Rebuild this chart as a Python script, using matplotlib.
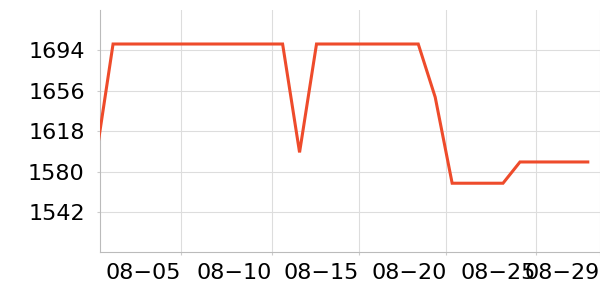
import matplotlib
matplotlib.use('Agg')
import matplotlib.pyplot as plt

# daily readings, 07-31 .. 08-29
dates = ['07-31'] + ['08-%02d' % d for d in range(1, 30)]
values = [1594,
          1700, 1700, 1700, 1700, 1700, 1700, 1700, 1700, 1700, 1700, 1700,
          1598,
          1700, 1700, 1700, 1700, 1700, 1700, 1700,
          1650,
          1569, 1569, 1569, 1569,
          1589, 1589, 1589, 1589, 1589]

y_ticks = [1542, 1580, 1618, 1656, 1694]
x_labels = ['08\u221205', '08\u221210', '08\u221215', '08\u221220', '08\u221225', '08\u221229']
x_tick_pos = [5.03, 10.35, 15.5, 20.66, 25.93, 29.71]

fig = plt.figure(figsize=(6, 3), dpi=100)
ax = fig.add_axes([100 / 600, 1 - 252.3 / 300, 500 / 600, 242.3 / 300])

x = list(range(len(values)))
ax.plot(x, values, color='#ee4b2b', linewidth=2.2, solid_joinstyle='miter', zorder=3)

ax.set_xlim(0.23, 29.72)
ax.set_ylim(1504, 1732)
ax.set_yticks(y_ticks)
ax.set_yticklabels([str(v) for v in y_ticks])
ax.set_xticks(x_tick_pos)
ax.set_xticklabels(x_labels, ha='right')

ax.grid(True, color='#dddddd', linewidth=0.8)
ax.set_axisbelow(True)
for side in ['top', 'right']:
    ax.spines[side].set_visible(False)
for side in ['left', 'bottom']:
    ax.spines[side].set_color('#bbbbbb')
    ax.spines[side].set_linewidth(0.8)

ax.tick_params(axis='both', colors='#cccccc', labelcolor='black', labelsize=16, length=2, width=0.8)
ax.tick_params(axis='y', pad=9)
ax.tick_params(axis='x', pad=6)

fig.savefig('out.png', dpi=100)
